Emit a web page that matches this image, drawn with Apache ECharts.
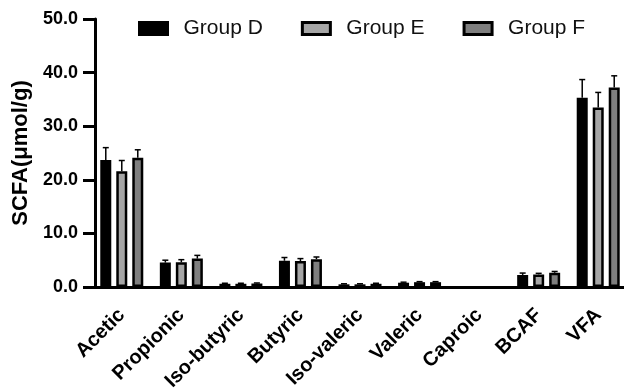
<!DOCTYPE html>
<html><head><meta charset="utf-8">
<script src="https://cdn.jsdelivr.net/npm/echarts@6/dist/echarts.min.js"></script>
<style>html,body{margin:0;padding:0;background:#fff}#c{width:624px;height:392px}</style>
</head><body><div id="c"></div>
<script>
const categories = ['Acetic','Propionic','Iso-butyric','Butyric','Iso-valeric','Valeric','Caproic','BCAF','VFA'];
const groupNames = ['Group D','Group E','Group F'];
const groupD = [23.7, 4.55, 0.6, 4.9, 0.5, 0.8, 0, 2.25, 35.3];
const groupE = [21.6, 4.6, 0.6, 4.85, 0.5, 0.9, 0, 2.35, 33.5];
const groupF = [24.1, 5.3, 0.65, 5.2, 0.6, 0.9, 0, 2.65, 37.2];
const errD = [2.3, 0.45, 0.1, 0.6, 0.1, 0.1, 0, 0.35, 3.4];
const errE = [2.0, 0.5, 0.1, 0.45, 0.1, 0.1, 0, 0.2, 2.8];
const errF = [1.5, 0.6, 0.1, 0.4, 0.1, 0.1, 0, 0.25, 2.2];
const yTicks = [0, 10, 20, 30, 40, 50];

const fills = ['#000000', '#a6a6a6', '#7f7f7f'];
const values = [groupD, groupE, groupF];
const errs = [errD, errE, errF];
const BAR_W = 11, SPACING = 16;
const FONT = 'Liberation Sans, Arial, Helvetica, sans-serif';

const chart = echarts.init(document.getElementById('c'));
const series = [];
values.forEach((v, i) => {
  series.push({
    name: groupNames[i], type: 'bar', data: v.map(x => x === 0 ? null : x),
    barWidth: BAR_W, barGap: ((SPACING - BAR_W) / BAR_W * 100) + '%',
    itemStyle: { color: fills[i], borderColor: '#000', borderWidth: 2.5 },
    emphasis: { disabled: true }, animation: false
  });
});
values.forEach((v, i) => {
  series.push({
    type: 'custom', animation: false, silent: true,
    data: v.map((val, k) => [k, val, val + errs[i][k]]),
    renderItem: function (params, api) {
      const k = api.value(0);
      const p0 = api.coord([k, api.value(1)]);
      const p1 = api.coord([k, api.value(2)]);
      const x = p0[0] + (i - 1) * SPACING;
      if (api.value(2) - api.value(1) <= 0) return null;
      return { type: 'group', children: [
        { type: 'line', shape: { x1: x, y1: p0[1], x2: x, y2: p1[1] }, style: { stroke: '#000', lineWidth: 1.5 } },
        { type: 'line', shape: { x1: x - 3, y1: p1[1], x2: x + 3, y2: p1[1] }, style: { stroke: '#000', lineWidth: 1.5 } }
      ]};
    },
    z: 3
  });
});

chart.setOption({
  animation: false,
  textStyle: { fontFamily: FONT },
  legend: {
    data: groupNames, top: 13, left: 133, itemWidth: 28, itemHeight: 12, itemGap: 38, icon: 'rect',
    itemStyle: { borderWidth: 3, borderColor: '#000' },
    textStyle: { fontSize: 21, color: '#111', fontFamily: FONT, padding: [0, 0, 0, 11] }
  },
  grid: { left: 92, right: -4, top: 19, bottom: 105, containLabel: false, outerBoundsMode: 'none' },
  xAxis: {
    type: 'category', data: categories,
    axisLine: { lineStyle: { color: '#000', width: 3 } },
    axisTick: { alignWithLabel: true, length: 10, lineStyle: { color: '#000', width: 3 } },
    axisLabel: { rotate: 45, fontSize: 20, fontWeight: 'bold', color: '#000', margin: 25, fontFamily: FONT }
  },
  yAxis: {
    type: 'value', min: yTicks[0], max: yTicks[yTicks.length - 1], interval: 10, offset: -3,
    name: 'SCFA(μmol/g)', nameLocation: 'middle', nameGap: 61, nameRotate: 90,
    nameTextStyle: { fontSize: 22, fontWeight: 'bold', color: '#000', fontFamily: FONT },
    axisLine: { show: true, lineStyle: { color: '#000', width: 3 } },
    axisTick: { show: true, length: 12, lineStyle: { color: '#000', width: 3 } },
    splitLine: { show: false },
    axisLabel: { fontSize: 18, fontWeight: 'bold', color: '#000', margin: 17, formatter: v => v.toFixed(1), fontFamily: FONT }
  },
  series: series
});
</script></body></html>
